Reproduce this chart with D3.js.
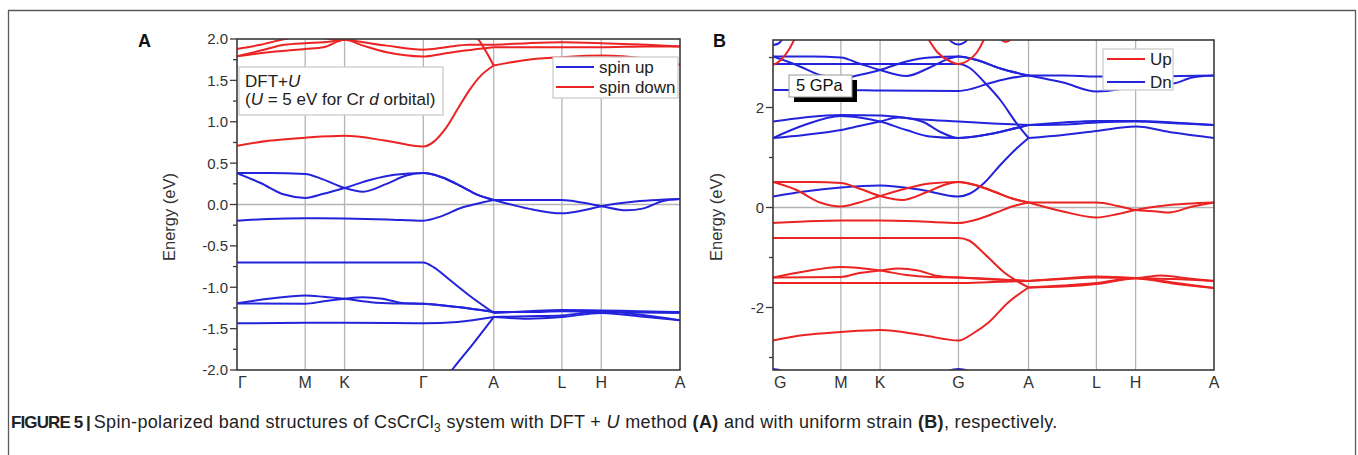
<!DOCTYPE html>
<html>
<head>
<meta charset="utf-8">
<script src="https://cdn.jsdelivr.net/npm/d3@7/dist/d3.min.js"></script>
<style>
  body { margin: 0; background: #fff; }
  svg { display: block; font-family: 'Liberation Sans', Arial, sans-serif; }
</style>
</head>
<body>
<svg id="figure" width="1358" height="455"></svg>
<script>
// high symmetry points along the k-path (same path for both panels)
var kTicks = [0, 0.866, 1.366, 2.366, 3.26, 4.126, 4.626, 5.626];
var kLabelsA = ['\u0393', 'M', 'K', '\u0393', 'A', 'L', 'H', 'A'];
var kLabelsB = ['G', 'M', 'K', 'G', 'A', 'L', 'H', 'A'];

var yMajorA = [-2, -1.5, -1, -0.5, 0, 0.5, 1, 1.5, 2];
var yMinorA = [-1.75, -1.25, -0.75, -0.25, 0.25, 0.75, 1.25, 1.75];
var yMajorB = [-2, 0, 2];
var yMinorB = [-3, -1, 1, 3];

// panel A, spin up bands: [k, E(eV)]
var bandsAUp = [
  [[0,0.38],[0.4,0.38],[0.866,0.37],[1.1,0.3],[1.366,0.2],[1.6,0.155],[1.9,0.25],[2.15,0.35],[2.366,0.38],[2.6,0.33],[2.85,0.22],[3.05,0.12],[3.26,0.055],[3.7,0.055],[4.126,0.055],[4.4,0.02],[4.626,-0.02],[4.95,-0.07],[5.15,-0.05],[5.4,0.04],[5.626,0.065]],
  [[0,0.38],[0.3,0.26],[0.6,0.12],[0.866,0.08],[1.1,0.13],[1.366,0.2],[1.7,0.3],[2.0,0.36],[2.366,0.38],[2.6,0.33],[2.85,0.22],[3.05,0.12],[3.26,0.055],[3.7,-0.05],[4.126,-0.107],[4.4,-0.07],[4.626,-0.02],[5.0,0.03],[5.626,0.065]],
  [[0,-0.196],[0.4,-0.175],[0.866,-0.167],[1.366,-0.17],[1.9,-0.18],[2.366,-0.196],[2.6,-0.14],[2.85,-0.04],[3.05,0.01],[3.26,0.055]],
  [[0,-0.7],[0.866,-0.7],[1.366,-0.7],[2.366,-0.7],[2.5,-0.76],[2.7,-0.91],[2.95,-1.1],[3.26,-1.31],[3.7,-1.29],[4.126,-1.275],[4.626,-1.28],[5.1,-1.29],[5.626,-1.3]],
  [[0,-1.195],[0.4,-1.14],[0.866,-1.1],[1.1,-1.115],[1.366,-1.14],[1.7,-1.18],[2.0,-1.195],[2.366,-1.2],[2.8,-1.24],[3.26,-1.3],[3.7,-1.3],[4.126,-1.29],[4.626,-1.3],[5.626,-1.31]],
  [[0,-1.195],[0.866,-1.2],[1.1,-1.17],[1.366,-1.14],[1.6,-1.12],[1.85,-1.14],[2.1,-1.19],[2.366,-1.2],[2.8,-1.24],[3.26,-1.3]],
  [[0,-1.435],[0.866,-1.43],[1.366,-1.43],[2.366,-1.435],[2.8,-1.42],[3.26,-1.36],[3.7,-1.35],[4.126,-1.34],[4.626,-1.29],[5.1,-1.33],[5.626,-1.4]],
  [[2.5,-2.3],[2.73,-2.0],[3.0,-1.68],[3.26,-1.36],[3.7,-1.38],[4.126,-1.36],[4.626,-1.31],[5.2,-1.36],[5.626,-1.4]]
];

// panel A, spin down bands
var bandsADown = [
  [[0,0.71],[0.4,0.77],[0.866,0.807],[1.366,0.83],[1.9,0.77],[2.366,0.7],[2.5,0.76],[2.65,0.92],[2.8,1.15],[2.95,1.38],[3.1,1.56],[3.26,1.68],[3.7,1.75],[4.126,1.78],[4.626,1.8],[5.2,1.76],[5.626,1.69]],
  [[0,1.88],[0.3,1.93],[0.61,2.0],[0.866,2.03],[1.366,1.99],[1.7,2.06],[2.0,2.2],[2.366,2.3],[2.7,2.25],[2.95,2.1],[3.06,2.0],[3.26,1.68]],
  [[0,1.79],[0.3,1.86],[0.6,1.93],[0.866,1.95],[1.1,1.96],[1.366,1.99],[1.6,1.96],[1.9,1.92],[2.366,1.87],[2.65,1.9],[2.95,1.93],[3.26,1.93],[3.7,1.95],[4.126,1.96],[4.626,1.95],[5.2,1.93],[5.626,1.91]],
  [[0,1.79],[0.4,1.84],[0.866,1.88],[1.1,1.9],[1.366,1.99],[1.6,1.92],[1.9,1.84],[2.366,1.79],[2.6,1.82],[2.9,1.86],[3.26,1.9],[3.7,1.9],[4.126,1.9],[4.626,1.9],[5.2,1.91],[5.626,1.91]]
];

// panel B (5 GPa), Up bands
var bandsBUp = [
  [[0,0.51],[0.5,0.51],[0.866,0.49],[1.1,0.38],[1.366,0.23],[1.65,0.15],[1.95,0.3],[2.2,0.46],[2.366,0.51],[2.6,0.44],[2.85,0.3],[3.05,0.18],[3.26,0.1],[3.7,0.1],[4.126,0.1],[4.4,0.03],[4.626,-0.05],[4.9,-0.08],[5.05,-0.1],[5.35,0.02],[5.626,0.1]],
  [[0,0.51],[0.3,0.35],[0.6,0.1],[0.866,0.02],[1.1,0.1],[1.366,0.23],[1.7,0.38],[2.0,0.48],[2.366,0.51],[2.6,0.44],[2.85,0.3],[3.05,0.18],[3.26,0.1],[3.7,-0.08],[4.126,-0.2],[4.4,-0.13],[4.626,-0.05],[5.0,0.04],[5.626,0.1]],
  [[0,-0.31],[0.4,-0.28],[0.866,-0.26],[1.366,-0.26],[1.9,-0.28],[2.366,-0.31],[2.6,-0.24],[2.85,-0.1],[3.05,0.02],[3.26,0.1]],
  [[0,-0.61],[0.866,-0.61],[1.366,-0.61],[2.366,-0.61],[2.5,-0.66],[2.7,-0.93],[2.95,-1.3],[3.26,-1.6],[3.7,-1.56],[4.126,-1.51],[4.626,-1.41],[5.1,-1.5],[5.626,-1.61]],
  [[0,-1.4],[0.4,-1.28],[0.866,-1.19],[1.1,-1.21],[1.366,-1.26],[1.7,-1.35],[2.0,-1.39],[2.366,-1.4],[2.8,-1.43],[3.26,-1.47],[3.7,-1.42],[4.126,-1.38],[4.626,-1.41],[5.1,-1.43],[5.626,-1.47]],
  [[0,-1.4],[0.866,-1.39],[1.1,-1.31],[1.366,-1.26],[1.6,-1.22],[1.85,-1.26],[2.1,-1.37],[2.366,-1.4],[2.8,-1.44],[3.26,-1.47],[3.7,-1.43],[4.126,-1.4],[4.626,-1.41],[4.95,-1.36],[5.3,-1.42],[5.626,-1.47]],
  [[0,-1.51],[0.866,-1.51],[1.366,-1.51],[2.366,-1.51],[2.8,-1.49],[3.26,-1.47]],
  [[0,-2.66],[0.4,-2.55],[0.866,-2.49],[1.366,-2.45],[1.9,-2.55],[2.366,-2.66],[2.55,-2.52],[2.75,-2.3],[3.0,-1.9],[3.26,-1.6],[3.7,-1.58],[4.126,-1.53],[4.626,-1.42],[5.1,-1.52],[5.626,-1.61]],
  [[0,2.85],[0.1,2.95],[0.2,3.15],[0.3,3.45]],
  [[1.95,3.45],[2.1,3.1],[2.25,2.93],[2.366,2.87],[2.48,2.93],[2.6,3.1],[2.72,3.45]],
  [[2.85,3.45],[2.97,3.31],[3.09,3.45]]
];

// panel B (5 GPa), Dn bands
var bandsBDn = [
  [[0,0.22],[0.4,0.32],[0.866,0.4],[1.366,0.44],[1.9,0.35],[2.366,0.22],[2.5,0.27],[2.7,0.5],[2.9,0.85],[3.1,1.17],[3.26,1.39],[3.7,1.45],[4.126,1.53],[4.626,1.62],[5.1,1.5],[5.626,1.39]],
  [[0,1.72],[0.4,1.8],[0.866,1.85],[1.366,1.84],[1.9,1.76],[2.366,1.72],[2.8,1.68],[3.26,1.65],[3.7,1.7],[4.126,1.73],[4.626,1.73],[5.1,1.7],[5.626,1.65]],
  [[0,1.39],[0.4,1.65],[0.866,1.83],[1.1,1.8],[1.366,1.72],[1.7,1.55],[2.0,1.42],[2.366,1.39],[2.7,1.45],[3.0,1.55],[3.26,1.65],[3.7,1.66],[4.126,1.7],[4.626,1.72],[5.2,1.68],[5.626,1.65]],
  [[0,1.39],[0.4,1.45],[0.866,1.55],[1.1,1.63],[1.366,1.72],[1.6,1.8],[1.9,1.72],[2.15,1.5],[2.366,1.39],[2.7,1.45],[3.0,1.55],[3.26,1.65]],
  [[0,2.35],[0.866,2.35],[1.366,2.34],[2.366,2.33],[2.55,2.38],[2.75,2.48],[3.0,2.58],[3.26,2.64],[3.7,2.5],[4.126,2.32],[4.4,2.36],[4.626,2.45],[5.1,2.48],[5.35,2.6],[5.626,2.64]],
  [[0,2.87],[0.866,2.87],[1.366,2.87],[2.366,2.87],[2.5,2.8],[2.7,2.5],[2.9,2.15],[3.1,1.7],[3.26,1.39]],
  [[0,3.02],[0.5,3.02],[0.866,3.0],[1.1,2.88],[1.366,2.75],[1.7,2.63],[2.0,2.8],[2.25,2.98],[2.366,3.02],[2.6,2.95],[2.9,2.78],[3.26,2.64],[3.7,2.64],[4.126,2.62],[4.626,2.62],[5.2,2.63],[5.626,2.64]],
  [[0,3.02],[0.3,2.85],[0.6,2.65],[0.866,2.58],[1.1,2.65],[1.366,2.75],[1.7,2.92],[2.0,3.0],[2.366,3.02],[2.6,2.95],[2.9,2.78],[3.26,2.64]],
  [[0,3.25],[0.07,3.28],[0.15,3.45]],
  [[2.2,3.45],[2.29,3.3],[2.366,3.26],[2.44,3.3],[2.53,3.45]],
  [[0,-3.23],[0.12,-3.27],[0.22,-3.4]],
  [[2.1,-3.4],[2.22,-3.28],[2.366,-3.23],[2.51,-3.28],[2.63,-3.4]]
];

(function (d3) {
  'use strict';

  var BLUE = '#2323dc',
      RED = '#eb2323',
      GRID = '#b4b4b4',
      AXIS = '#3a3a3a';

  var svg = d3.select('#figure');

  // outer figure frame (open at the bottom)
  svg.append('path')
    .attr('d', 'M8.5,455V10.5H1355.5V455')
    .style('fill', 'none')
    .style('stroke', '#5a5a5a')
    .style('stroke-width', 1.3);

  // split a band at the A point so the kink there stays sharp
  function splitBand(band) {
    var segs = [], cur = [band[0]];
    for (var i = 1; i < band.length; i++) {
      cur.push(band[i]);
      if (band[i][0] === kTicks[4] && i < band.length - 1) {
        segs.push(cur);
        cur = [band[i]];
      }
    }
    if (cur.length > 1) segs.push(cur);
    return segs;
  }

  function drawPanel(p) {
    var x = d3.scaleLinear().domain([kTicks[0], kTicks[kTicks.length - 1]]).range([p.left, p.right]),
        y = d3.scaleLinear().domain(p.yDomain).range([p.bottom, p.top]);

    var g = svg.append('g');

    g.append('clipPath').attr('id', p.id + 'Clip')
      .append('rect')
        .attr('x', p.left).attr('y', p.top)
        .attr('width', p.right - p.left).attr('height', p.bottom - p.top);

    // vertical lines at high symmetry points and the Fermi level
    g.selectAll('.kline')
      .data(kTicks.slice(1, -1))
      .enter().append('line')
        .attr('x1', function(d) { return x(d); })
        .attr('x2', function(d) { return x(d); })
        .attr('y1', p.top).attr('y2', p.bottom)
        .style('stroke', GRID)
        .style('stroke-width', 1.3);

    g.append('line')
      .attr('x1', p.left).attr('x2', p.right)
      .attr('y1', y(0)).attr('y2', y(0))
      .style('stroke', GRID)
      .style('stroke-width', 1.3);

    // bands
    var line = d3.line()
      .x(function(d) { return x(d[0]); })
      .y(function(d) { return y(d[1]); })
      .curve(d3.curveMonotoneX);

    var plot = g.append('g').attr('clip-path', 'url(#' + p.id + 'Clip)');
    p.series.forEach(function(s) {
      var segs = [];
      s.bands.forEach(function(b) { segs = segs.concat(splitBand(b)); });
      plot.selectAll(null)
        .data(segs)
        .enter().append('path')
          .attr('d', line)
          .style('fill', 'none')
          .style('stroke', s.color)
          .style('stroke-width', 2)
          .style('stroke-linejoin', 'round');
    });

    // frame
    g.append('rect')
      .attr('x', p.left).attr('y', p.top)
      .attr('width', p.right - p.left).attr('height', p.bottom - p.top)
      .style('fill', 'none')
      .style('stroke', AXIS)
      .style('stroke-width', 1.6);

    // y ticks
    g.selectAll('.major')
      .data(p.yMajor)
      .enter().append('line')
        .attr('x1', p.left - 7).attr('x2', p.left)
        .attr('y1', function(d) { return y(d); })
        .attr('y2', function(d) { return y(d); })
        .style('stroke', AXIS).style('stroke-width', 1.3);
    g.selectAll('.minor')
      .data(p.yMinor)
      .enter().append('line')
        .attr('x1', p.left - 4).attr('x2', p.left)
        .attr('y1', function(d) { return y(d); })
        .attr('y2', function(d) { return y(d); })
        .style('stroke', AXIS).style('stroke-width', 1.3);
    g.selectAll('.ylab')
      .data(p.yMajor)
      .enter().append('text')
        .attr('x', p.left - 9)
        .attr('y', function(d) { return y(d); })
        .attr('dy', '0.36em')
        .attr('text-anchor', 'end')
        .style('font-size', '15px')
        .style('fill', '#333')
        .text(p.yFormat);

    // k labels
    g.selectAll('.klab')
      .data(kTicks)
      .enter().append('text')
        .attr('x', function(d, i) { return i === 0 ? x(d) + 1 : x(d); })
        .attr('y', p.bottom + 18)
        .attr('text-anchor', function(d, i) { return i === 0 ? 'start' : 'middle'; })
        .style('font-size', '16px')
        .style('fill', '#333')
        .text(function(d, i) { return p.kLabels[i]; });

    // axis title
    g.append('text')
      .attr('transform', 'translate(' + p.titleX + ',217) rotate(-90)')
      .attr('text-anchor', 'middle')
      .style('font-size', '16.5px')
      .style('fill', '#333')
      .text('Energy (eV)');

    // panel letter
    g.append('text')
      .attr('x', p.letterX).attr('y', 47)
      .style('font-size', '18px')
      .style('font-weight', 'bold')
      .style('fill', '#111')
      .text(p.letter);

    return g;
  }

  function legend(g, box, items) {
    g.append('rect')
      .attr('x', box[0]).attr('y', box[1])
      .attr('width', box[2]).attr('height', box[3])
      .style('fill', '#fff')
      .style('stroke', '#c8c8c8')
      .style('stroke-width', 1.2);
    items.forEach(function(it) {
      g.append('line')
        .attr('x1', it.x).attr('x2', it.x + 38)
        .attr('y1', it.y).attr('y2', it.y)
        .style('stroke', it.color).style('stroke-width', 2);
      g.append('text')
        .attr('x', it.x + 43).attr('y', it.y + 6)
        .style('font-size', '17px')
        .style('fill', '#222')
        .text(it.label);
    });
  }

  // ---- Panel A: DFT+U
  var gA = drawPanel({
    id: 'panelA', letter: 'A', letterX: 138, titleX: 175,
    left: 237, right: 680, top: 39, bottom: 370,
    yDomain: [-2, 2], yMajor: yMajorA, yMinor: yMinorA,
    yFormat: function(d) { return d.toFixed(1); },
    kLabels: kLabelsA,
    series: [{bands: bandsAUp, color: BLUE}, {bands: bandsADown, color: RED}]
  });

  legend(gA, [553, 57, 125, 41], [
    {x: 556, y: 67, color: BLUE, label: 'spin up'},
    {x: 556, y: 87, color: RED, label: 'spin down'}
  ]);

  // annotation box
  gA.append('rect')
    .attr('x', 239).attr('y', 67).attr('width', 204).attr('height', 48)
    .style('fill', '#fff')
    .style('stroke', '#c8c8c8')
    .style('stroke-width', 1.2);
  var t1 = gA.append('text').attr('x', 245).attr('y', 87)
    .style('font-size', '17px').style('fill', '#222');
  t1.append('tspan').text('DFT+');
  t1.append('tspan').style('font-style', 'italic').text('U');
  var t2 = gA.append('text').attr('x', 245).attr('y', 105)
    .style('font-size', '17px').style('fill', '#222');
  t2.append('tspan').text('(');
  t2.append('tspan').style('font-style', 'italic').text('U');
  t2.append('tspan').text(' = 5 eV for Cr ');
  t2.append('tspan').style('font-style', 'italic').text('d');
  t2.append('tspan').text(' orbital)');

  // ---- Panel B: 5 GPa
  var gB = drawPanel({
    id: 'panelB', letter: 'B', letterX: 713, titleX: 722,
    left: 773, right: 1214, top: 40, bottom: 370,
    yDomain: [-3.25, 3.35], yMajor: yMajorB, yMinor: yMinorB,
    yFormat: function(d) { return String(d); },
    kLabels: kLabelsB,
    series: [{bands: bandsBDn, color: BLUE}, {bands: bandsBUp, color: RED}]
  });

  legend(gB, [1103, 49, 70, 41], [
    {x: 1107, y: 59, color: RED, label: 'Up'},
    {x: 1107, y: 82, color: BLUE, label: 'Dn'}
  ]);

  // pressure label with drop shadow
  gB.append('rect')
    .attr('x', 794).attr('y', 80).attr('width', 63).attr('height', 22)
    .style('fill', '#000');
  gB.append('rect')
    .attr('x', 789).attr('y', 75).attr('width', 63).attr('height', 22)
    .style('fill', '#fff')
    .style('stroke', '#999')
    .style('stroke-width', 1);
  gB.append('text')
    .attr('x', 796).attr('y', 91)
    .style('font-size', '16.5px')
    .style('fill', '#111')
    .text('5 GPa');

  // ---- caption
  var cap = svg.append('text')
    .attr('x', 11).attr('y', 428)
    .style('font-size', '18px')
    .style('letter-spacing', '0.33px')
    .style('fill', '#222');
  cap.append('tspan')
    .style('font-weight', 'bold')
    .style('letter-spacing', '-0.9px')
    .style('font-size', '17px')
    .text('FIGURE 5 | ');
  cap.append('tspan').text('Spin-polarized band structures of CsCrCl');
  cap.append('tspan').attr('dy', 4).style('font-size', '12px').text('3');
  cap.append('tspan').attr('dy', -4).text(' system with DFT + ');
  cap.append('tspan').style('font-style', 'italic').text('U');
  cap.append('tspan').text(' method ');
  cap.append('tspan').style('font-weight', 'bold').text('(A)');
  cap.append('tspan').text(' and with uniform strain ');
  cap.append('tspan').style('font-weight', 'bold').text('(B)');
  cap.append('tspan').text(', respectively.');

}(d3));
</script>
</body>
</html>
